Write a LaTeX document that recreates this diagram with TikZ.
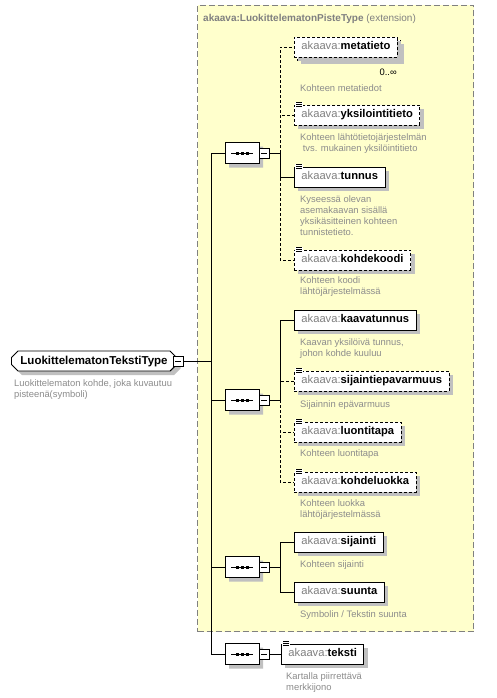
\documentclass[tikz,border=0pt]{standalone}
\usepackage{fontspec}
\setmainfont{Liberation Sans}
\usetikzlibrary{shapes.misc,shadows}
\definecolor{ybg}{RGB}{255,255,204}
\definecolor{ybord}{RGB}{128,128,128}
\definecolor{pfx}{RGB}{128,128,128}
\definecolor{desctext}{RGB}{140,140,140}
\definecolor{shd}{RGB}{192,192,192}
\newcommand\akl[1]{{\color{pfx}akaava:}\textbf{#1}}
\tikzset{
  conn/.style={line width=0.9pt},
  optconn/.style={line width=0.9pt, dash pattern=on 3pt off 2pt},
  elem/.style={draw, line width=0.9pt, fill=white, rectangle, anchor=west, minimum height=20pt,
    inner xsep=7pt, inner ysep=0pt, text height=8pt, text depth=2.5pt,
    font=\fontsize{11.2}{13}\selectfont,
    drop shadow={shadow xshift=4pt, shadow yshift=-4pt, fill=shd, opacity=1}},
  optelem/.style={elem, dash pattern=on 3pt off 2pt},
  descnode/.style={anchor=north west, align=left, inner sep=0pt,
    font=\fontsize{9.4}{11}\selectfont, text=desctext,
    execute at begin node={\rule{0pt}{7.5pt}}},
  seqnode/.style={draw, line width=0.9pt, fill=white, chamfered rectangle, chamfered rectangle xsep=5pt,
    minimum width=34pt, minimum height=21pt, inner sep=0pt,
    drop shadow={shadow xshift=4pt, shadow yshift=-4pt, fill=shd, opacity=1}},
  minusbox/.style={draw, line width=0.9pt, fill=white, rectangle, minimum size=10pt, inner sep=0pt,
    path picture={\draw[line width=0.9pt] ([xshift=2pt]path picture bounding box.west) -- ([xshift=-2pt]path picture bounding box.east);}},
}
\newcommand\seqdots[1]{%
  \draw[line width=0.9pt] ([xshift=-11pt]#1.center) -- ([xshift=11pt]#1.center);
  \foreach \dx in {-5,0,5}{\fill ([xshift=\dx pt-1.5pt,yshift=-1.5pt]#1.center) rectangle ++(3pt,3pt);}
}
\newcommand\docicon[1]{%
  \begin{scope}[shift={(#1.north west)}]
    \fill[white] (1,-3) rectangle (9,3);
    \draw[line width=0.7pt] (2,-2) -- (8,-2) (2,0) -- (8,0) (2,2) -- (8,2);
  \end{scope}
}
\begin{document}
\begin{tikzpicture}[x=1pt,y=-1pt]
\useasboundingbox (0,0) rectangle (496,698);
\fill[white] (0,0) rectangle (496,698);
% extension box
\node[draw=ybord, fill=ybg, line width=1pt, dash pattern=on 6pt off 3pt, rectangle, anchor=north west,
  minimum width=276pt, minimum height=626pt, inner sep=0pt] (ext) at (197,5) {};
\node[anchor=west, inner sep=0pt, font=\fontsize{10}{12}\selectfont, text=pfx] (title) at (203,19)
  {\textbf{akaava:LuokittelematonPisteType} (extension)};

% root
\node[draw, line width=0.9pt, fill=white, chamfered rectangle, chamfered rectangle xsep=3pt, anchor=west,
  minimum height=20pt, inner xsep=6pt, inner ysep=0pt, text height=8pt, text depth=2pt,
  font=\fontsize{11.5}{13}\bfseries,
  drop shadow={shadow xshift=4pt, shadow yshift=-4pt, fill=shd, opacity=1}] (root) at (11,361)
  {LuokittelematonTekstiType\hspace{9pt}};
\node[minusbox] (rm) at ([xshift=1pt]root.east) {};
\node[descnode] (rootd) at (14,379) {Luokittelematon kohde, joka kuvautuu\\pisteenä(symboli)};

% sequences
\foreach \n/\y in {1/153,2/400,3/567,4/654}{
  \node[seqnode] (s\n) at (242,\y) {};
  \node[minusbox] (m\n) at (264,\y) {};
  \coordinate (j\n) at (280,\y);
  \coordinate (sp\n) at (211,\y);
}
\foreach \n in {1,2,3,4}{\seqdots{s\n}}
\coordinate (spr) at (211,361);

% elements
\node[optelem] (mtb) at (297,50) {\phantom{\akl{metatieto}}};
\node[optelem, drop shadow={opacity=0}] (mt) at (294,47) {\akl{metatieto}};
\node[anchor=base east, inner sep=0pt, font=\fontsize{9.4}{11}\selectfont] (mtc) at (397,75.5) {0..∞};
\node[optelem] (yk) at (294,115) {\akl{yksilointitieto}};
\node[elem] (tu) at (294,177) {\akl{tunnus}};
\node[optelem] (kk) at (294,260) {\akl{kohdekoodi}};
\node[elem] (kt) at (294,320) {\akl{kaavatunnus}};
\node[optelem] (sp) at (294,381) {\akl{sijaintiepavarmuus}};
\node[optelem] (lt) at (294,432) {\akl{luontitapa}};
\node[optelem] (kl) at (294,482) {\akl{kohdeluokka}};
\node[elem] (si) at (294,542) {\akl{sijainti}};
\node[elem] (su) at (294,592) {\akl{suunta}};
\node[elem] (te) at (281,654) {\akl{teksti}};
\foreach \n in {yk,tu,kk,sp,lt,kl,te}{\docicon{\n}}

% descriptions
\node[descnode] (mtd) at (300,84) {Kohteen metatiedot};
\node[descnode] (ykd) at (300,133) {Kohteen lähtötietojärjestelmän\\\ tvs. mukainen yksilöintitieto};
\node[descnode] (tud) at (300,195) {Kyseessä olevan\\asemakaavan sisällä\\yksikäsitteinen kohteen\\tunnistetieto.};
\node[descnode] (kkd) at (300,276) {Kohteen koodi\\lähtöjärjestelmässä};
\node[descnode] (ktd) at (300,338) {Kaavan yksilöivä tunnus,\\johon kohde kuuluu};
\node[descnode] (spd) at (300,400) {Sijainnin epävarmuus};
\node[descnode] (ltd) at (300,449) {Kohteen luontitapa};
\node[descnode] (kld) at (300,499) {Kohteen luokka\\lähtöjärjestelmässä};
\node[descnode] (sid) at (300,560) {Kohteen sijainti};
\node[descnode] (sud) at (300,610) {Symbolin / Tekstin suunta};
\node[descnode] (ted) at (286,672) {Kartalla piirrettävä\\merkkijono};

% connectors
\draw[conn] (rm.east) -- (spr);
\draw[conn] (sp1) -- (sp4);
\foreach \n in {1,2,3,4}{\draw[conn] (sp\n) -- (s\n.west);}
\foreach \n in {1,2,3}{\draw[conn] (m\n.east) -- (j\n);}
\draw[conn] (m4.east) -- (te.west);
% sequence 1
\draw[optconn] (j1) |- (mt.west);
\draw[optconn] (j1) |- (yk.west);
\draw[optconn] (j1) |- (kk.west);
\draw[conn] (j1) |- (tu.west);
% sequence 2
\draw[optconn] (j2) |- (sp.west);
\draw[optconn] (j2) |- (lt.west);
\draw[optconn] (j2) |- (kl.west);
\draw[conn] (j2) |- (kt.west);
% sequence 3
\draw[conn] (j3) |- (si.west);
\draw[conn] (j3) |- (su.west);
\end{tikzpicture}
\end{document}
